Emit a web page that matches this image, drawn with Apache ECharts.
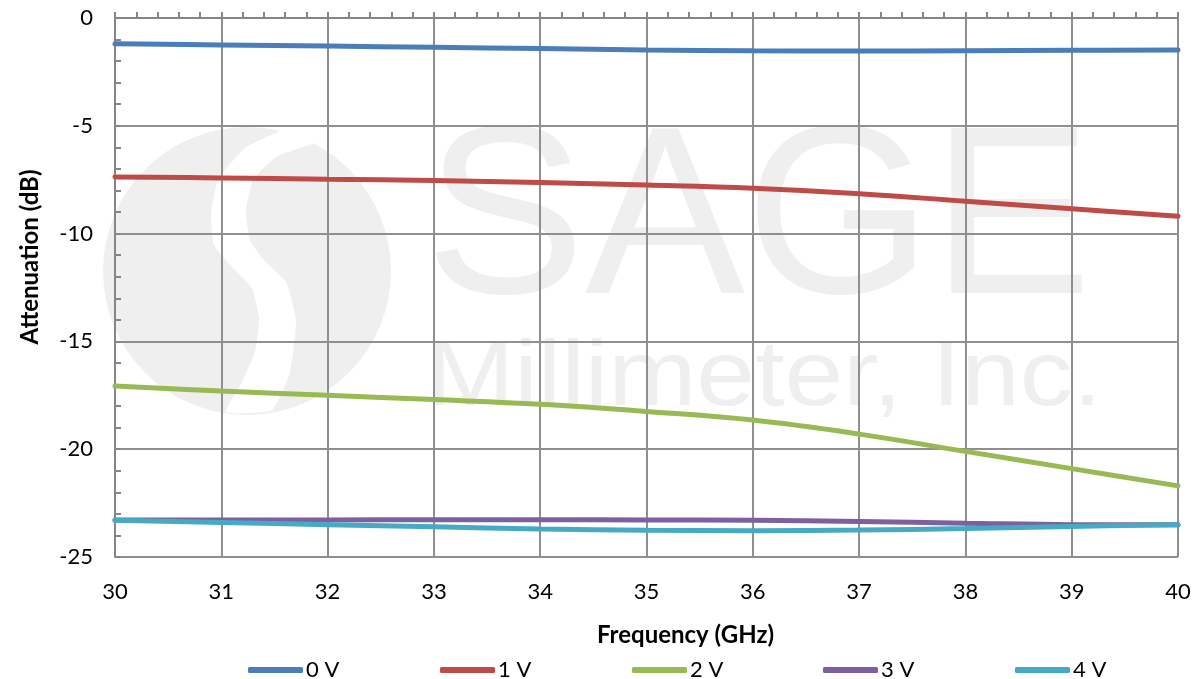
<!DOCTYPE html>
<html>
<head>
<meta charset="utf-8">
<script src="https://cdn.jsdelivr.net/npm/echarts@6/dist/echarts.min.js"></script>
<style>html,body{margin:0;padding:0;background:#fff}#c{width:1198px;height:679px}</style>
</head>
<body>
<div id="c"></div>
<script>
var freqs = [30, 31, 32, 33, 34, 35, 36, 37, 38, 39, 40];
var v0 = [-1.2, -1.25, -1.3, -1.36, -1.42, -1.48, -1.52, -1.53, -1.52, -1.5, -1.48];
var v1 = [-7.37, -7.42, -7.48, -7.54, -7.63, -7.75, -7.9, -8.15, -8.5, -8.85, -9.2];
var v2 = [-17.07, -17.3, -17.5, -17.7, -17.92, -18.25, -18.65, -19.3, -20.1, -20.9, -21.7];
var v3 = [-23.28, -23.28, -23.28, -23.27, -23.27, -23.28, -23.3, -23.35, -23.43, -23.5, -23.5];
var v4 = [-23.3, -23.4, -23.5, -23.6, -23.7, -23.76, -23.78, -23.75, -23.68, -23.58, -23.5];
var seriesNames = ['0 V', '1 V', '2 V', '3 V', '4 V'];
var colors = ['#4A7EBB', '#BE4B48', '#98B954', '#7D60A0', '#46AAC5'];
var allData = [v0, v1, v2, v3, v4];
var legendLefts = [248, 440, 632, 823, 1015];

function pairs(arr) { return freqs.map(function (f, i) { return [f, arr[i]]; }); }

var chart = echarts.init(document.getElementById('c'));
var font = 'Lato, "Open Sans", sans-serif';
var wm = '#efefef';
chart.setOption({
  animation: false,
  textStyle: { fontFamily: font },
  grid: { left: 115, right: 20, top: 18, bottom: 122 },
  graphic: [
    { type: 'circle', z: -10, shape: { cx: 247, cy: 271, r: 144 }, style: { fill: wm } },
    { type: 'polygon', z: -9, shape: { smooth: 0.15, points: [[290, 128], [245, 148], [218, 180], [211, 215], [214, 245], [233, 268], [252, 288], [259, 318], [255, 352], [242, 382], [226, 412], [272, 410], [290, 372], [296, 320], [286, 282], [262, 258], [250, 240], [246, 212], [253, 180], [276, 157], [312, 144], [350, 134]] }, style: { fill: '#ffffff' } },
    { type: 'text', z: -9, x: 425, y: 107, style: { text: 'SAGE', font: '240px "Liberation Sans"', fill: wm, verticalAlign: 'top' } },
    { type: 'text', z: -9, x: 426, y: 334, scaleX: 1.15, style: { text: 'Millimeter, Inc.', font: '92px "Liberation Sans"', fill: wm, verticalAlign: 'top' } },
    { type: 'text', x: 30, y: 257, rotation: Math.PI / 2, style: { text: 'Attenuation (dB)', font: 'bold 24px ' + font, fill: '#000', align: 'center', verticalAlign: 'middle' } }
  ],
  legend: seriesNames.map(function (n, i) {
    return {
      top: 659,
      left: legendLefts[i],
      padding: 0,
      itemWidth: 55,
      itemHeight: 6,
      itemGap: 4,
      icon: 'roundRect',
      textStyle: { fontSize: 22, color: '#000', padding: [0, 0, 0, -2] },
      data: [n]
    };
  }),
  xAxis: {
    type: 'value',
    min: 30, max: 40, interval: 1,
    name: 'Frequency (GHz)',
    nameLocation: 'middle',
    nameGap: 66,
    nameTextStyle: { fontSize: 24, fontWeight: 'bold', color: '#000', padding: [0, 0, 0, 78] },
    axisLine: { show: true, lineStyle: { color: '#868686', width: 2 } },
    axisTick: { show: true, inside: true, length: 6, lineStyle: { color: '#868686', width: 2 } },
    minorTick: { show: true, splitNumber: 5, length: 6, lineStyle: { color: '#868686', width: 2 } },
    axisLabel: { fontSize: 22, color: '#000', margin: 24 },
    splitLine: { show: true, lineStyle: { color: '#8f8f8f', width: 2 } }
  },
  yAxis: {
    type: 'value',
    min: -25, max: 0, interval: 5,
    axisLine: { show: true, lineStyle: { color: '#868686', width: 2 } },
    axisTick: { show: true, inside: true, length: 6, lineStyle: { color: '#868686', width: 2 } },
    minorTick: { show: true, splitNumber: 5, length: 6, lineStyle: { color: '#868686', width: 2 } },
    axisLabel: { fontSize: 22, color: '#000', margin: 22 },
    splitLine: { show: true, lineStyle: { color: '#8f8f8f', width: 2 } }
  },
  series: allData.map(function (d, i) {
    return {
      name: seriesNames[i],
      type: 'line',
      smooth: 0.4,
      showSymbol: false,
      symbol: 'none',
      data: pairs(d),
      color: colors[i],
      lineStyle: { width: 5, color: colors[i], cap: 'round' },
      itemStyle: { color: colors[i] }
    };
  })
});
</script>
</body>
</html>
